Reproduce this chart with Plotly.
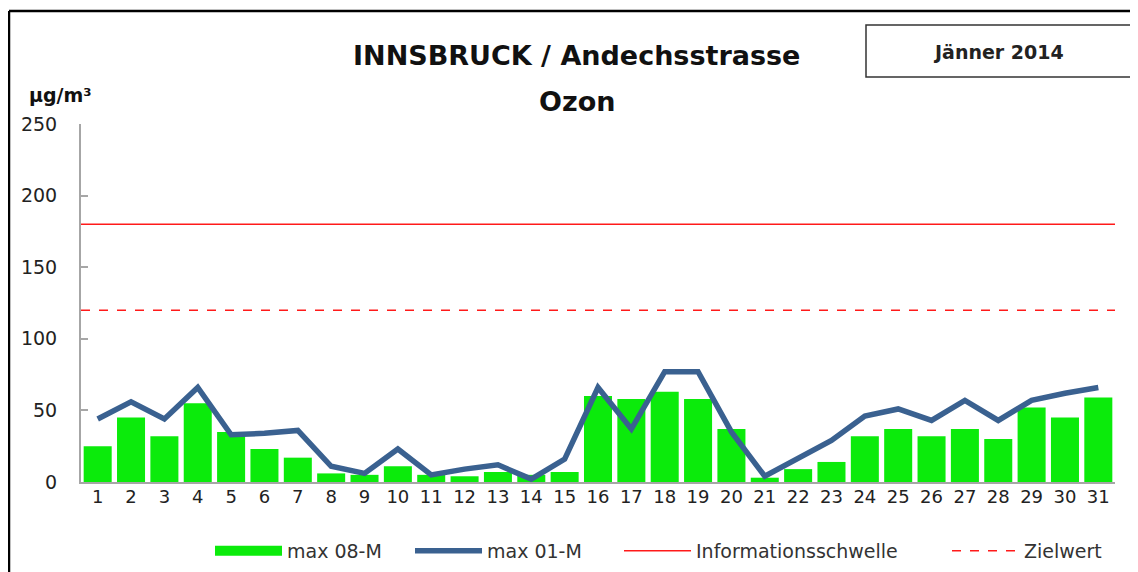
import plotly.graph_objects as go

days = list(range(1, 32))
max_08m = [25, 45, 32, 55, 35, 23, 17, 6, 5, 11, 5, 4, 7, 5, 7, 60, 58, 63, 58, 37,
           3, 9, 14, 32, 37, 32, 37, 30, 52, 45, 59]
max_01m = [44, 56, 44, 66, 33, 34, 36, 11, 6, 23, 5, 9, 12, 2, 16, 66, 37, 77, 77, 35,
           4, 17, 29, 46, 51, 43, 57, 43, 57, 62, 66]
info_threshold = 180
target_value = 120
y_ticks = [0, 50, 100, 150, 200, 250]

title_line1 = "INNSBRUCK / Andechsstrasse"
title_line2 = "Ozon"
period_label = "Jänner 2014"
unit_label = "µg/m³"

# page has an 8px body margin: figure origin sits at (8, 8) of the window
OFF = 8
W, H = 1138 - OFF, 572 - OFF
# plot area in window pixels: x 81..1115, y 124..482
L, R, T, B = 81, 1115, 124, 482
def px(x):
    return (x - L) / (R - L)
def py(y):
    return (B - y) / (B - T)
def cx(x):
    return (x - OFF) / W
def cy(y):
    return 1 - (y - OFF) / H

FONT = "DejaVu Sans"
GREEN = "#0BEB0B"
BLUE = "#3A6190"
RED = "#FF1A1A"
GRAY = "#A6A6A6"

fig = go.Figure()
fig.add_trace(go.Bar(x=days, y=max_08m, name="max 08-M", showlegend=False,
                     legendgroup="m8", marker=dict(color=GREEN, line=dict(width=0))))
# legend entry for the bars drawn as a wide green block, like the reference
fig.add_trace(go.Scatter(x=[None], y=[None], name="max 08-M", mode="lines",
                         legendgroup="m8", legend="legend",
                         line=dict(color=GREEN, width=16)))
fig.add_trace(go.Scatter(x=days, y=max_01m, name="max 01-M", mode="lines",
                         legend="legend2", line=dict(color=BLUE, width=5.5)))
x_span = [days[0] - 0.5, days[-1] + 0.5]
fig.add_trace(go.Scatter(x=x_span, y=[info_threshold] * 2, name="Informationsschwelle",
                         mode="lines", legend="legend3", line=dict(color=RED, width=1.5)))
fig.add_trace(go.Scatter(x=x_span, y=[target_value] * 2, name="Zielwert",
                         mode="lines", legend="legend4",
                         line=dict(color=RED, width=1.5, dash="dash")))

LEG_Y = 551
def leg(x):
    return dict(orientation="h", xref="container", yref="container",
                x=cx(x), xanchor="left", y=cy(LEG_Y), yanchor="middle",
                font=dict(family=FONT, size=19, color="#333333"),
                itemwidth=67, bgcolor="rgba(0,0,0,0)")

fig.update_layout(
    width=W, height=H,
    margin=dict(l=L - OFF, r=W - (R - OFF), t=T - OFF, b=H - (B - OFF)),
    plot_bgcolor="white", paper_bgcolor="white",
    bargap=0.16,
    font=dict(family=FONT, color="#222222"),
    showlegend=True,
    legend=leg(210), legend2=leg(410), legend3=leg(619), legend4=leg(947),
    xaxis=dict(range=x_span, tickvals=days, ticktext=[str(d) for d in days],
               showline=True, linecolor=GRAY, linewidth=2, ticks="", showgrid=False,
               zeroline=False, ticklabelstandoff=-3,
               tickfont=dict(family=FONT, size=18, color="#222222")),
    yaxis=dict(range=[0, 250], tickvals=y_ticks, showline=True, linecolor=GRAY, linewidth=2,
               ticks="inside", ticklen=7, tickcolor=GRAY, tickwidth=2, showgrid=False,
               zeroline=False, ticklabelstandoff=18,
               tickfont=dict(family=FONT, size=19, color="#222222")),
)

fig.add_annotation(text="<b>" + title_line1 + "</b>", xref="paper", yref="paper",
                   x=px(576), y=py(55), xanchor="center", yanchor="middle", showarrow=False,
                   font=dict(family=FONT, size=27, color="#111111"))
fig.add_annotation(text="<b>" + title_line2 + "</b>", xref="paper", yref="paper",
                   x=px(577), y=py(102), xanchor="center", yanchor="middle", showarrow=False,
                   font=dict(family=FONT, size=27, color="#111111"))
fig.add_annotation(text="<b>" + unit_label + "</b>", xref="paper", yref="paper",
                   x=px(60), y=py(95), xanchor="center", yanchor="middle", showarrow=False,
                   font=dict(family=FONT, size=19, color="#111111"))
fig.add_shape(type="rect", xref="paper", yref="paper",
              x0=px(866), x1=px(1131), y0=py(77), y1=py(25),
              line=dict(color="#333333", width=1.5), fillcolor="white")
fig.add_annotation(text="<b>" + period_label + "</b>", xref="paper", yref="paper",
                   x=px(998), y=py(52), xanchor="center", yanchor="middle", showarrow=False,
                   font=dict(family=FONT, size=19, color="#222222"))
# outer frame (extends beyond right/bottom edges as in the reference)
fig.add_shape(type="line", xref="paper", yref="paper", x0=px(9), x1=px(1150), y0=py(11), y1=py(11),
              line=dict(color="black", width=2.5))
fig.add_shape(type="line", xref="paper", yref="paper", x0=px(9), x1=px(9), y0=py(11), y1=py(590),
              line=dict(color="black", width=2.5))

fig.write_html("out.html")
